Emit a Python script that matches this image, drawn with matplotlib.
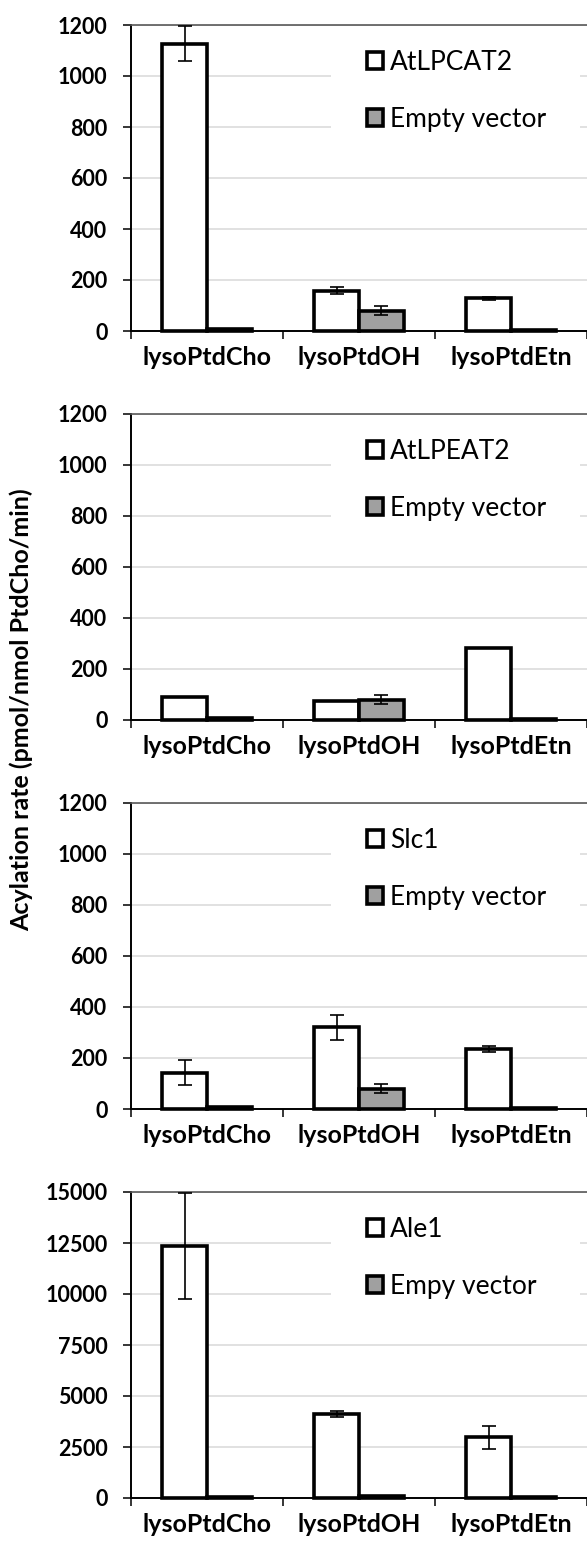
import matplotlib.pyplot as plt
import numpy as np
from matplotlib.patches import Rectangle

# substrates on the x axis (same for every panel)
substrates = ['lysoPtdCho', 'lysoPtdOH', 'lysoPtdEtn']

# panel 1: AtLPCAT2
atlpcat2 = [1127, 158, 128]
atlpcat2_err = [70, 14, 5]
# panel 2: AtLPEAT2
atlpeat2 = [89, 75, 281]
atlpeat2_err = [0, 0, 0]
# panel 3: Slc1
slc1 = [143, 320, 237]
slc1_err = [50, 50, 12]
# panel 4: Ale1
ale1 = [12360, 4125, 2968]
ale1_err = [2600, 140, 545]

# empty vector controls
ev_12 = [8, 80, 3]
ev_12_err = [0, 18, 0]
ev_3 = [8, 80, 3]
ev_3_err = [0, 17, 0]
ev_4 = [40, 90, 30]
ev_4_err = [0, 0, 0]

enzyme_names = ['AtLPCAT2', 'AtLPEAT2', 'Slc1', 'Ale1']
control_names = ['Empty vector', 'Empty vector', 'Empty vector', 'Empy vector']
y_max = [1200, 1200, 1200, 15000]
y_step = [200, 200, 200, 2500]

panels = [
    (atlpcat2, atlpcat2_err, ev_12, ev_12_err),
    (atlpeat2, atlpeat2_err, ev_12, ev_12_err),
    (slc1, slc1_err, ev_3, ev_3_err),
    (ale1, ale1_err, ev_4, ev_4_err),
]

plt.rcParams['font.family'] = ['Lato', 'DejaVu Sans']

W, H = 587, 1548
fig = plt.figure(figsize=(W / 100, H / 100), dpi=100)

x = np.arange(len(substrates))
w = 0.296
ax_left, ax_width, ax_height = 131, 456, 306
ax_bottoms = [331, 720, 1109, 1498]

err_style = dict(ecolor='black', elinewidth=1.2, capsize=5, capthick=1.2, zorder=4)

for i, (vals, errs, ctrl, ctrl_err) in enumerate(panels):
    ax = fig.add_axes([ax_left / W, 1 - ax_bottoms[i] / H, ax_width / W, ax_height / H])
    ax.set_axisbelow(True)
    ax.yaxis.grid(True, color='#d9d9d9', lw=1.1)

    b1 = ax.bar(x - w / 2, vals, w, yerr=errs, color='white', edgecolor='black',
                linewidth=2.6, error_kw=err_style, zorder=3, clip_on=False)
    b2 = ax.bar(x + w / 2, ctrl, w, yerr=ctrl_err, color='#a0a0a0', edgecolor='black',
                linewidth=2.6, error_kw=err_style, zorder=3, clip_on=False)

    ax.set_xlim(-0.5, 2.5)
    ax.set_ylim(0, y_max[i])
    ax.set_yticks(np.arange(0, y_max[i] + 1, y_step[i]))

    ax.set_xticks(x)
    ax.set_xticklabels(substrates, fontsize=18, fontweight='bold')
    ax.set_xticks([-0.5, 0.5, 1.5, 2.5], minor=True)
    ax.tick_params(axis='x', which='major', length=0, pad=11)
    ax.tick_params(axis='x', which='minor', length=6, width=1.1, direction='out')
    ax.tick_params(axis='y', length=6, width=1.1, pad=11, labelsize=15.5)
    for lab in ax.get_yticklabels():
        lab.set_fontweight('bold')

    for s in ['left', 'bottom']:
        ax.spines[s].set_linewidth(1.4)
        ax.spines[s].set_color('black')
    ax.spines['top'].set_color('#595959')
    ax.spines['top'].set_linewidth(1.2)
    ax.spines['right'].set_visible(False)

    # white box behind the legend hides the gridlines
    ax.add_patch(Rectangle((0.439, 0.593), 0.546, 0.374, transform=ax.transAxes,
                           facecolor='white', edgecolor='none', zorder=1))
    ax.legend([b1, b2], [enzyme_names[i], control_names[i]], loc='upper left',
              bbox_to_anchor=((367 - ax_left) / ax_width, 1 - 25 / ax_height),
              frameon=False, fontsize=19, handlelength=0.62, handleheight=0.62,
              handletextpad=0.25, labelspacing=1.22, borderpad=0, borderaxespad=0)

fig.text(21 / W, 1 - 710 / H, 'Acylation rate (pmol/nmol PtdCho/min)', rotation=90,
         ha='center', va='center', fontsize=18, fontweight='bold')

fig.savefig('out.png', dpi=100)
